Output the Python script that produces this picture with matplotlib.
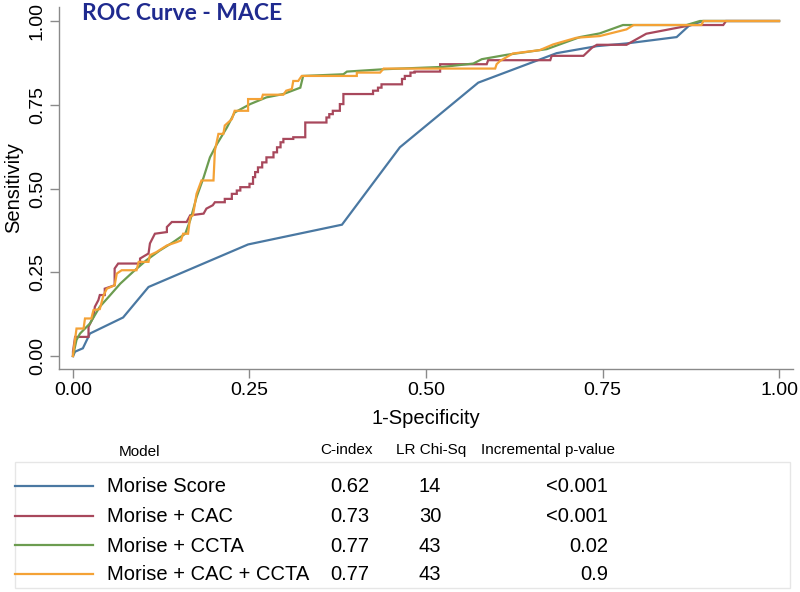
import matplotlib
matplotlib.use("Agg")
import matplotlib.pyplot as plt
from matplotlib.patches import Rectangle

plt.rcParams['font.family'] = ['Liberation Sans', 'DejaVu Sans']

# ---------------- data ----------------
models = ["Morise Score", "Morise + CAC", "Morise + CCTA", "Morise + CAC + CCTA"]
c_index = ["0.62", "0.73", "0.77", "0.77"]
lr_chisq = ["14", "30", "43", "43"]
p_values = ["<0.001", "<0.001", "0.02", "0.9"]
colors = ["#4a78a2", "#a8485c", "#6c9c50", "#f4a236"]

x_ticks = [0.00, 0.25, 0.50, 0.75, 1.00]
x_ticklabels = ["0.00", "0.25", "0.50", "0.75", "1.00"]
y_ticks = [0.00, 0.25, 0.50, 0.75, 1.00]
y_ticklabels = ["0.00", "0.25", "0.50", "0.75", "1.00"]

morise_fpr = [0, 0.003, 0.014, 0.024, 0.071, 0.107, 0.248, 0.381, 0.463, 0.574,
              0.685, 0.742, 0.784, 0.855, 0.872, 0.892, 1.0]
morise_tpr = [0, 0.013, 0.023, 0.067, 0.115, 0.206, 0.333, 0.392, 0.623, 0.816,
              0.904, 0.925, 0.933, 0.952, 0.985, 1.0, 1.0]

cac_fpr = [0, 0, 0.003, 0.022, 0.022, 0.029, 0.031, 0.036, 0.038, 0.045, 0.045,
           0.059, 0.059, 0.059, 0.064, 0.095, 0.095, 0.107, 0.109, 0.116, 0.133,
           0.133, 0.140, 0.161, 0.166, 0.185, 0.189, 0.198, 0.201,
           0.215, 0.215, 0.225, 0.225, 0.232, 0.232, 0.237, 0.237, 0.250, 0.250,
           0.255, 0.255, 0.258, 0.258, 0.262, 0.262, 0.268, 0.268, 0.274, 0.274,
           0.284, 0.284, 0.289, 0.289, 0.294, 0.294, 0.298, 0.298, 0.312, 0.312,
           0.329, 0.329, 0.359, 0.359, 0.363, 0.363, 0.368, 0.368, 0.378, 0.378,
           0.383, 0.383, 0.425, 0.425, 0.432, 0.432, 0.437, 0.437, 0.466, 0.466,
           0.470, 0.470, 0.478, 0.478, 0.484, 0.484, 0.520, 0.520, 0.586, 0.588,
           0.676, 0.678, 0.723, 0.735, 0.742, 0.784, 0.812, 0.869, 0.872, 0.921,
           0.925, 1.0]
cac_tpr = [0, 0.013, 0.057, 0.057, 0.087, 0.117, 0.147, 0.167, 0.182, 0.182, 0.201,
           0.211, 0.226, 0.261, 0.276, 0.276, 0.291, 0.306, 0.336, 0.365, 0.370,
           0.385, 0.400, 0.400, 0.420, 0.425, 0.440, 0.450, 0.459,
           0.459, 0.469, 0.469, 0.484, 0.484, 0.494, 0.494, 0.504, 0.504, 0.514,
           0.514, 0.534, 0.534, 0.549, 0.549, 0.563, 0.563, 0.578, 0.578, 0.593,
           0.593, 0.608, 0.608, 0.623, 0.623, 0.638, 0.638, 0.648, 0.648, 0.653,
           0.653, 0.697, 0.697, 0.712, 0.712, 0.722, 0.722, 0.732, 0.732, 0.752,
           0.752, 0.782, 0.782, 0.792, 0.792, 0.801, 0.801, 0.811, 0.811, 0.827,
           0.827, 0.836, 0.836, 0.846, 0.846, 0.849, 0.849, 0.871, 0.871, 0.883,
           0.883, 0.896, 0.896, 0.920, 0.929, 0.929, 0.962, 0.985, 0.988, 0.988,
           1.0, 1.0]

ccta_fpr = [0, 0.005, 0.010, 0.024, 0.038, 0.052, 0.067, 0.085, 0.104, 0.123,
            0.142, 0.159, 0.166, 0.170, 0.175, 0.185, 0.194, 0.204, 0.218, 0.229,
            0.251, 0.274, 0.298, 0.322, 0.326, 0.383, 0.388, 0.440, 0.524, 0.567,
            0.579, 0.614, 0.671, 0.718, 0.746, 0.779, 0.869, 0.888, 1.0]
ccta_tpr = [0, 0.048, 0.067, 0.097, 0.147, 0.180, 0.216, 0.251, 0.286, 0.315,
            0.340, 0.365, 0.405, 0.435, 0.474, 0.533, 0.593, 0.633, 0.682, 0.727,
            0.752, 0.772, 0.782, 0.801, 0.836, 0.841, 0.849, 0.856, 0.863, 0.873,
            0.886, 0.899, 0.916, 0.952, 0.963, 0.988, 0.988, 1.0, 1.0]

both_fpr = [0, 0, 0.005, 0.015, 0.017, 0.026, 0.029, 0.038, 0.043, 0.048, 0.059,
            0.062, 0.069, 0.090, 0.093, 0.107, 0.109, 0.118, 0.133, 0.147, 0.153,
            0.156, 0.163, 0.166, 0.170, 0.175, 0.182, 0.199, 0.201, 0.206, 0.213,
            0.215, 0.225, 0.229, 0.248, 0.248, 0.267, 0.269, 0.298, 0.302, 0.310,
            0.312, 0.319, 0.324, 0.402, 0.402, 0.435, 0.440, 0.598, 0.600, 0.605,
            0.623, 0.661, 0.680, 0.713, 0.746, 0.784, 0.794, 0.890, 0.893, 1.0]
both_tpr = [0, 0.003, 0.082, 0.082, 0.112, 0.112, 0.137, 0.140, 0.180, 0.201, 0.211,
            0.246, 0.256, 0.256, 0.281, 0.281, 0.301, 0.310, 0.330, 0.340, 0.345,
            0.365, 0.365, 0.415, 0.420, 0.484, 0.524, 0.524, 0.613, 0.663, 0.663,
            0.688, 0.707, 0.732, 0.732, 0.767, 0.767, 0.780, 0.780, 0.792, 0.797,
            0.821, 0.821, 0.836, 0.836, 0.846, 0.846, 0.858, 0.858, 0.871, 0.881,
            0.903, 0.913, 0.930, 0.950, 0.955, 0.975, 0.988, 0.988, 1.0, 1.0]

curves = [(morise_fpr, morise_tpr), (cac_fpr, cac_tpr),
          (ccta_fpr, ccta_tpr), (both_fpr, both_tpr)]

# ---------------- figure ----------------
W, H = 800, 592
fig = plt.figure(figsize=(W / 100, H / 100), dpi=100)
ax = fig.add_axes([59 / W, 1 - 369 / H, (793 - 59) / W, (369 - 7) / H])

for (fx, fy), col in zip(curves, colors):
    ax.plot(fx, fy, color=col, lw=1.6, solid_joinstyle='miter')

ax.set_xlim(-0.0198, 1.0198)
ax.set_ylim(-0.0388, 1.0418)
ax.set_xticks(x_ticks)
ax.set_xticklabels(x_ticklabels)
ax.set_yticks(y_ticks)
ax.set_yticklabels(y_ticklabels, rotation=90, va='center')
for s in ['top', 'right']:
    ax.spines[s].set_visible(False)
for s in ['left', 'bottom']:
    ax.spines[s].set_color('#8a8a8a')
    ax.spines[s].set_linewidth(1.0)
ax.tick_params(direction='out', length=6.5, width=1.0, color='#8a8a8a',
               labelsize=14, pad=3)
ax.set_xlabel("1-Specificity", fontsize=14.5, labelpad=7)
ax.set_ylabel("Sensitivity", fontsize=14.5, labelpad=4)

fig.text(82 / W, 1 - 13 / H, "ROC Curve - MACE", fontsize=16.5,
         fontweight='bold', color='#1f2a8f', va='center', ha='left',
         family=['Lato', 'DejaVu Sans'])

# ---------------- table legend ----------------
ov = fig.add_axes([0, 0, 1, 1], facecolor='none')
ov.set_xlim(0, W)
ov.set_ylim(H, 0)
ov.axis('off')

ov.add_patch(Rectangle((15, 462), 775, 126, fill=False, edgecolor='#e6e6e6', lw=1))

hdr_y = 450
ov.text(140, hdr_y + 2, "Model", fontsize=11, ha='center', va='center')
ov.text(320, hdr_y, "C-index", fontsize=11, ha='left', va='center')
ov.text(396, hdr_y, "LR Chi-Sq", fontsize=11, ha='left', va='center')
ov.text(481, hdr_y, "Incremental p-value", fontsize=11, ha='left', va='center')

row_y = [487, 517, 546, 575]
for i, yy in enumerate(row_y):
    ov.plot([15, 93], [yy - 1, yy - 1], color=colors[i], lw=1.6)
    ov.text(107, yy, models[i], fontsize=14.5, ha='left', va='center')
    ov.text(350, yy, c_index[i], fontsize=14.5, ha='center', va='center')
    ov.text(430, yy, lr_chisq[i], fontsize=14.5, ha='center', va='center')
    ov.text(608, yy, p_values[i], fontsize=14.5, ha='right', va='center')

fig.savefig("out.png", dpi=100)
